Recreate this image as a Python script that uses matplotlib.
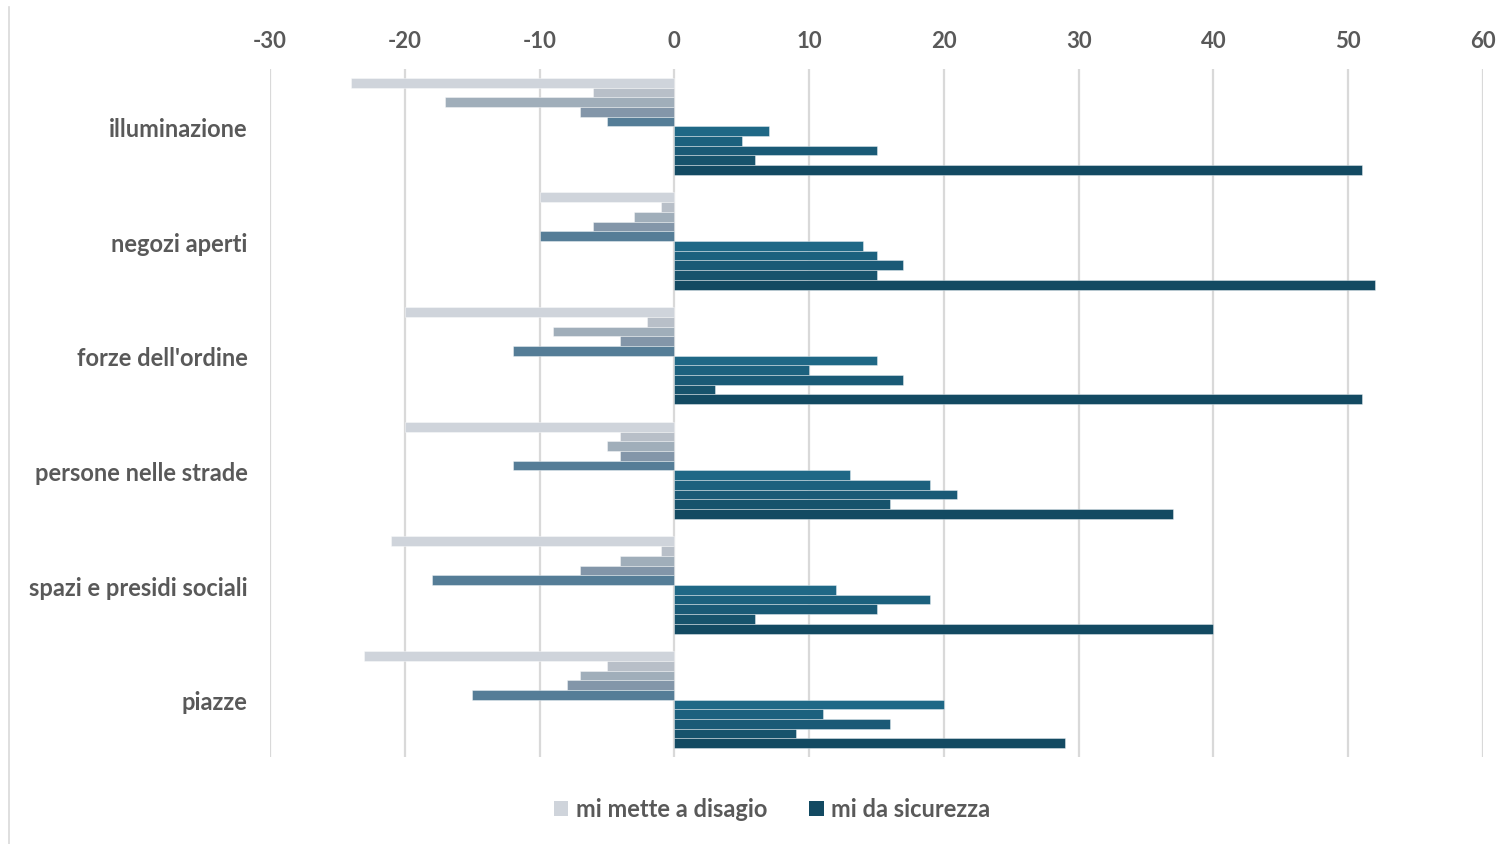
import numpy as np
import matplotlib
matplotlib.use("Agg")
import matplotlib.pyplot as plt
from matplotlib.lines import Line2D
from matplotlib.patches import Patch

plt.rcParams['font.family'] = ['Lato', 'DejaVu Sans']
plt.rcParams['axes.unicode_minus'] = False

categories = ['illuminazione', 'negozi aperti', "forze dell'ordine",
              'persone nelle strade', 'spazi e presidi sociali', 'piazze']

# "mi mette a disagio" - five series, one value per category
disagio_1 = [-24, -10, -20, -20, -21, -23]
disagio_2 = [-6, -1, -2, -4, -1, -5]
disagio_3 = [-17, -3, -9, -5, -4, -7]
disagio_4 = [-7, -6, -4, -4, -7, -8]
disagio_5 = [-5, -10, -12, -12, -18, -15]

# "mi da sicurezza" - five series
sicurezza_1 = [7, 14, 15, 13, 12, 20]
sicurezza_2 = [5, 15, 10, 19, 19, 11]
sicurezza_3 = [15, 17, 17, 21, 15, 16]
sicurezza_4 = [6, 15, 3, 16, 6, 9]
sicurezza_5 = [51, 52, 51, 37, 40, 29]

series = [disagio_1, disagio_2, disagio_3, disagio_4, disagio_5,
          sicurezza_1, sicurezza_2, sicurezza_3, sicurezza_4, sicurezza_5]
colors = ['#cfd4db', '#b8bfc8', '#a0aeba', '#8396a9', '#557d97',
          '#1f6886', '#1c617e', '#1a5a76', '#17536c', '#134a62']

text_col = '#595959'

fig = plt.figure(figsize=(15.12, 8.45), dpi=100)
ax = fig.add_axes([270 / 1512, 1 - 758 / 845, 1213 / 1512, 688 / 845])

y = np.arange(len(categories))
w = 0.0846
for j, (vals, c) in enumerate(zip(series, colors)):
    ax.barh(y + (j - 4.5) * w, vals, height=w, color=c,
            edgecolor=(1, 1, 1, 0.45), linewidth=0.6, zorder=3)

ax.set_xlim(-30, 60)
ax.set_ylim(len(categories) - 0.5, -0.5)
ax.set_xticks(np.arange(-30, 61, 10))
ax.xaxis.tick_top()
ax.tick_params(axis='x', length=0, pad=13, labelsize=16, labelcolor=text_col)
ax.tick_params(axis='y', length=0, pad=16, labelsize=17, labelcolor=text_col)
for lab in ax.get_xticklabels():
    lab.set_fontweight('bold')
ax.set_yticks(y)
ax.set_yticklabels(categories, fontweight='bold')
ax.grid(axis='x', color='#d9d9d9', linewidth=1.6, zorder=0)
for s in ax.spines.values():
    s.set_visible(False)

# left border of chart area
fig.add_artist(Line2D([9 / 1512, 9 / 1512], [0, 1 - 8 / 845],
                      transform=fig.transFigure, color='#d9d9d9', linewidth=1.2))

handles = [Patch(facecolor=colors[0], label='mi mette a disagio'),
           Patch(facecolor='#134a62', label='mi da sicurezza')]
leg = fig.legend(handles=handles, loc='center', bbox_to_anchor=(772 / 1512, 1 - 810 / 845),
                 ncol=2, frameon=False, handlelength=0.6, handleheight=0.6,
                 handletextpad=0.3, columnspacing=1.8,
                 prop={'weight': 'bold', 'size': 17})
for t in leg.get_texts():
    t.set_color(text_col)

fig.savefig('out.png', dpi=100)
